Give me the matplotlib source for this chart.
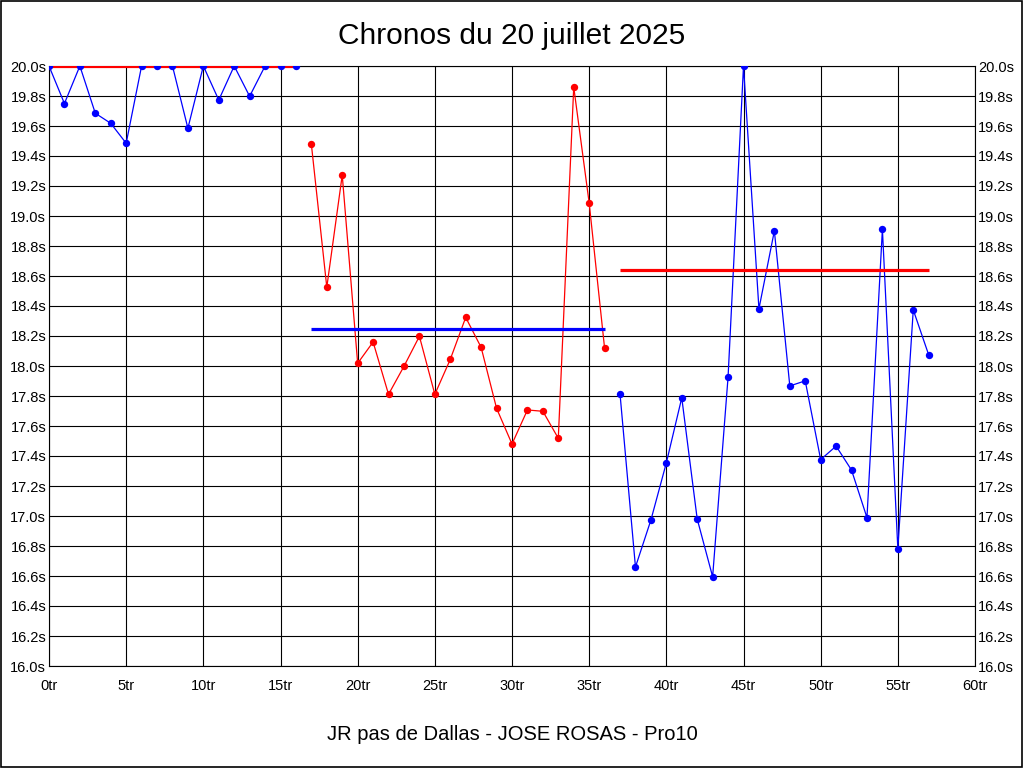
import matplotlib
matplotlib.use("Agg")
import matplotlib.pyplot as plt
from matplotlib.ticker import MultipleLocator, FuncFormatter

plt.rcParams["font.family"] = ["Liberation Sans", "DejaVu Sans"]

# --- Data ---
laps_1 = list(range(0, 17))
times_1 = [20.0, 19.75, 20.0, 19.685, 19.618, 19.485, 20.0, 20.0, 20.0,
           19.585, 20.0, 19.773, 20.0, 19.798, 20.0, 20.0, 20.0]

laps_2 = list(range(17, 37))
times_2 = [19.478, 18.525, 19.273, 18.018, 18.16, 17.811, 17.998, 18.198,
           17.811, 18.044, 18.324, 18.124, 17.718, 17.48, 17.707, 17.698,
           17.518, 19.86, 19.087, 18.118]

laps_3 = list(range(37, 58))
times_3 = [17.813, 16.66, 16.973, 17.354, 17.788, 16.98, 16.595, 17.926,
           20.0, 18.381, 18.901, 17.867, 17.901, 17.376, 17.466, 17.306,
           16.989, 18.912, 16.782, 18.374, 18.074]

# reference level for each section
ref_1 = 20.0
ref_2 = 18.245
ref_3 = 18.64

BLUE = "#0000FF"
RED = "#FF0000"

fig = plt.figure(figsize=(10.24, 7.68), dpi=100)
ax = fig.add_axes([49 / 1024, 1 - 666 / 768, 926 / 1024, 600 / 768])

sections = [
    (laps_1, times_1, BLUE, ref_1, RED),
    (laps_2, times_2, RED, ref_2, BLUE),
    (laps_3, times_3, BLUE, ref_3, RED),
]
for laps, times, col, ref, refcol in sections:
    ax.plot(laps, times, "-", color=col, linewidth=0.9, zorder=2)
    ax.plot([laps[0], laps[-1]], [ref, ref], "-", color=refcol,
            linewidth=2.3, zorder=3, solid_capstyle="butt")
    ax.plot(laps, times, "o", color=col, markersize=5.3, zorder=4,
            markeredgewidth=0)

ax.set_xlim(0, 60)
ax.set_ylim(16.0, 20.0)
ax.xaxis.set_major_locator(MultipleLocator(5))
ax.yaxis.set_major_locator(MultipleLocator(0.2))
ax.xaxis.set_major_formatter(FuncFormatter(lambda v, p: f"{v:.0f}tr"))
ax.yaxis.set_major_formatter(FuncFormatter(lambda v, p: f"{v:.1f}s"))
ax.grid(True, color="black", linewidth=0.8)
ax.set_axisbelow(True)
ax.tick_params(axis="both", length=0, labelsize=10.5, pad=2)
ax.tick_params(axis="x", pad=9)
ax.tick_params(axis="y", right=True, labelright=True)
for s in ax.spines.values():
    s.set_linewidth(0.8)

fig.text(0.5, 1 - 36 / 768, "Chronos du 20 juillet 2025", ha="center",
         va="center", fontsize=21.5)
fig.text(0.5, 1 - 735 / 768, "JR pas de Dallas - JOSE ROSAS - Pro10",
         ha="center", va="center", fontsize=14.5)

# outer frame
fig.patches.append(plt.Rectangle((0.0005, 0.0007), 0.998, 0.998,
                                 transform=fig.transFigure, fill=False,
                                 edgecolor="black", linewidth=1.2))

fig.savefig("out.png", dpi=100)
